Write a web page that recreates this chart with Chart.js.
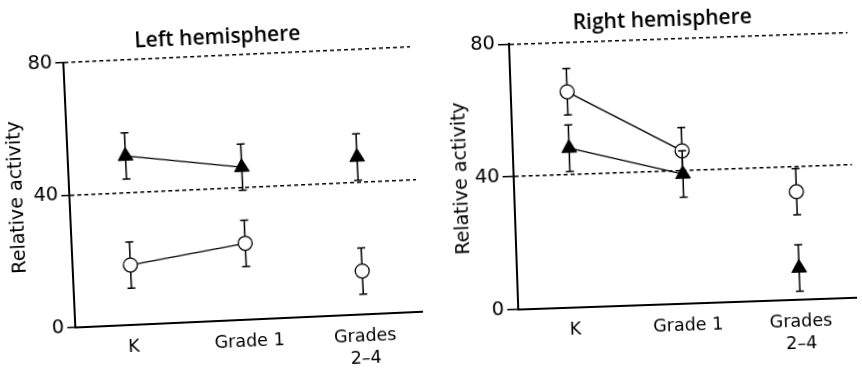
<!DOCTYPE html>
<html>
<head>
<meta charset="utf-8">
<script src="https://cdn.jsdelivr.net/npm/chart.js@4.4.1/dist/chart.umd.min.js"></script>
<style>
  html, body { margin: 0; padding: 0; background: #fff; overflow: hidden; width: 862px; height: 369px; position: relative; }
  .panel { position: absolute; top: 0; width: 431px; height: 400px; transform-origin: 215.5px 184.5px; }
  /* the scanned figure sits slightly askew */
  #p-left { left: 0; transform: rotate(-2.6deg); }
  #p-right { left: 431px; transform: rotate(-2deg); }
</style>
</head>
<body>
<div class="panel" id="p-left"><canvas id="c-left" width="431" height="400"></canvas></div>
<div class="panel" id="p-right"><canvas id="c-right" width="431" height="400"></canvas></div>
<script>
(function () {
  'use strict';

  var FONT = '"DejaVu Sans", sans-serif';
  var TITLE_FONT = '600 21px "Open Sans", "DejaVu Sans", sans-serif';

  /* ---- data ---- */
  var CATEGORIES = ['K', 'Grade 1', ['Grades', '2–4']];
  var Y_TICKS = [0, 40, 80];

  var LEFT_TRIANGLE = [51, 46, 47.5];
  var LEFT_TRIANGLE_ERR = [7, 7, 7];
  var LEFT_CIRCLE = [18, 23, 13];
  var LEFT_CIRCLE_ERR = [7, 7, 7];

  var RIGHT_TRIANGLE = [48, 39, 9.5];
  var RIGHT_TRIANGLE_ERR = [7, 7, 7];
  var RIGHT_CIRCLE = [65, 46, 32.5];
  var RIGHT_CIRCLE_ERR = [7, 7, 7];

  // error bars drawn just before each dataset, so markers sit on top of their own bars
  var errorBars = {
    id: 'errorBars',
    beforeDatasetDraw: function (chart, args) {
      var ds = chart.data.datasets[args.index];
      if (!ds.errors) return;
      var ys = chart.scales.y, ctx = chart.ctx;
      ctx.save();
      ctx.strokeStyle = '#000';
      ctx.lineWidth = 1.5;
      args.meta.data.forEach(function (pt, i) {
        var v = ds.data[i], e = ds.errors[i];
        if (v == null) return;
        var x = pt.x, top = ys.getPixelForValue(v + e), bot = ys.getPixelForValue(v - e);
        ctx.beginPath();
        ctx.moveTo(x, top); ctx.lineTo(x, bot);
        ctx.moveTo(x - 4, top); ctx.lineTo(x + 4, top);
        ctx.moveTo(x - 4, bot); ctx.lineTo(x + 4, bot);
        ctx.stroke();
      });
      ctx.restore();
    }
  };

  var panelTitle = {
    id: 'panelTitle',
    afterDraw: function (chart, args, opts) {
      var ctx = chart.ctx;
      ctx.save();
      ctx.font = TITLE_FONT;
      ctx.fillStyle = '#000';
      ctx.textAlign = 'center';
      ctx.textBaseline = 'middle';
      ctx.fillText(opts.text, opts.x, opts.y);
      ctx.restore();
    }
  };

  // hide the segment into "Grades 2-4": only K and Grade 1 are joined
  function hideLast(c) { return c.p1DataIndex === 2 ? 'rgba(0,0,0,0)' : undefined; }

  function triangleSet(values, errs) {
    return {
      data: values, errors: errs,
      borderColor: '#000', borderWidth: 1.3,
      pointStyle: 'triangle', pointRadius: 8.5, pointBackgroundColor: '#000', pointBorderColor: '#000', pointBorderWidth: 1,
      segment: { borderColor: hideLast },
      fill: false, tension: 0,
    };
  }
  function circleSet(values, errs) {
    return {
      data: values, errors: errs,
      borderColor: '#000', borderWidth: 1.3,
      pointStyle: 'circle', pointRadius: 7, pointBackgroundColor: '#fff', pointBorderColor: '#000', pointBorderWidth: 1.3,
      segment: { borderColor: hideLast },
      fill: false, tension: 0,
    };
  }

  function makePanel(id, cfg) {
    return new Chart(document.getElementById(id).getContext('2d'), {
      type: 'line',
      data: { labels: CATEGORIES, datasets: cfg.datasets },
      plugins: [errorBars, panelTitle],
      options: {
        responsive: false, animation: false, devicePixelRatio: 1,
        layout: { padding: { top: cfg.areaTop, right: cfg.padRight, left: 0, bottom: 0 } },
        plugins: {
          legend: { display: false },
          tooltip: { enabled: false },
          panelTitle: { text: cfg.title, x: cfg.titleX, y: cfg.titleY },
        },
        scales: {
          x: {
            offset: true,
            afterFit: function (s) { s.height = 400 - cfg.areaBottom; },
            border: { display: true, color: '#000', width: 2 },
            grid: { display: false, drawTicks: false },
            ticks: { color: '#000', font: { family: FONT, size: 17.5, lineHeight: 1.3 }, padding: 11, maxRotation: 0, autoSkip: false },
          },
          y: {
            min: 0, max: 80,
            afterBuildTicks: function (s) { s.ticks = Y_TICKS.map(function (v) { return { value: v }; }); },
            afterFit: function (s) { s.width = cfg.axisLeft; },
            border: { display: true, color: '#000', width: 2, dash: [4, 3] },
            grid: {
              color: function (c) { return c.tick && c.tick.value === 0 ? 'rgba(0,0,0,0)' : '#000'; },
              lineWidth: 1.4, tickColor: '#000', tickWidth: 1.5, tickLength: cfg.tickLen, tickBorderDash: [],
            },
            ticks: { color: '#000', font: { family: FONT, size: 19.5 }, padding: 3 },
            title: { display: true, text: 'Relative activity', color: '#000', font: { family: FONT, size: 19 }, padding: { top: cfg.titlePad, bottom: 0 } },
          },
        },
      },
    });
  }

  makePanel('c-left', {
    title: 'Left hemisphere', titleX: 224, titleY: 38,
    areaTop: 56, areaBottom: 320.6, axisLeft: 69, padRight: 15, tickLen: 8, titlePad: 6,
    datasets: [triangleSet(LEFT_TRIANGLE, LEFT_TRIANGLE_ERR), circleSet(LEFT_CIRCLE, LEFT_CIRCLE_ERR)],
  });

  makePanel('c-right', {
    title: 'Right hemisphere', titleX: 237, titleY: 21,
    areaTop: 39.3, areaBottom: 304.7, axisLeft: 83, padRight: 2, tickLen: 11, titlePad: 20,
    datasets: [triangleSet(RIGHT_TRIANGLE, RIGHT_TRIANGLE_ERR), circleSet(RIGHT_CIRCLE, RIGHT_CIRCLE_ERR)],
  });
})();
</script>
</body>
</html>
